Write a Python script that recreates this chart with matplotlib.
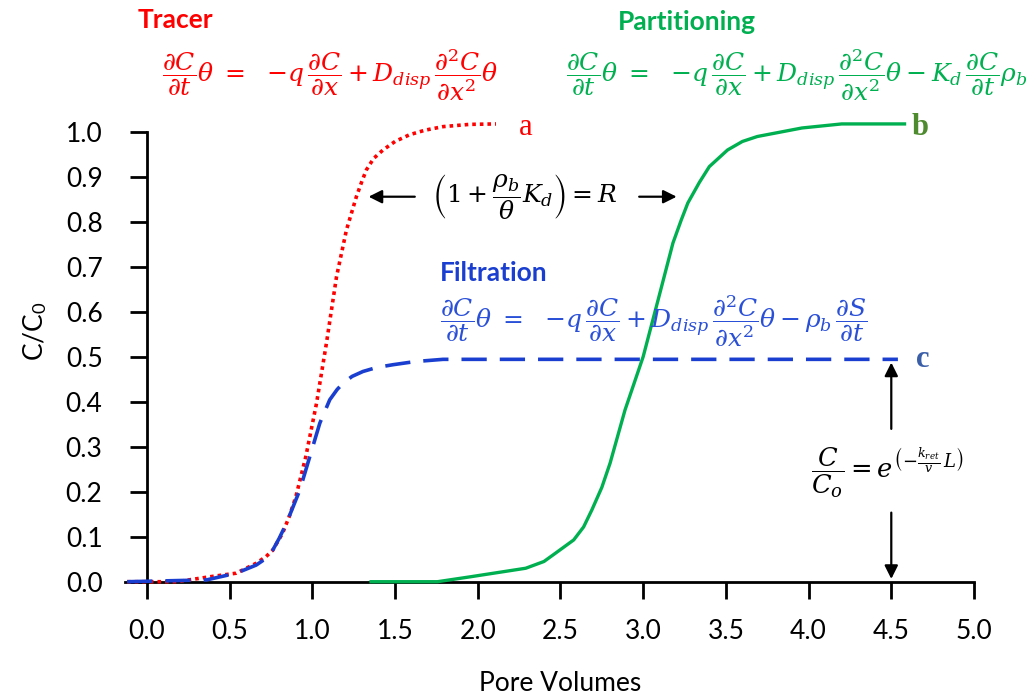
import matplotlib
matplotlib.use("Agg")
import matplotlib.pyplot as plt
from matplotlib.ticker import FormatStrFormatter

# ---- data ----
tracer_x = [-0.12, 0.18, 0.38, 0.54, 0.66, 0.72, 0.76, 0.82, 0.86, 0.90, 0.96, 1.025,
            1.085, 1.146, 1.206, 1.266, 1.30, 1.327, 1.37, 1.427, 1.50, 1.588, 1.68,
            1.79, 1.95, 2.11]
tracer_y = [0.0, 0.0, 0.011, 0.019, 0.041, 0.056, 0.07, 0.108, 0.145, 0.189, 0.278,
            0.397, 0.531, 0.679, 0.783, 0.857, 0.892, 0.917, 0.942, 0.961, 0.980,
            0.995, 1.005, 1.013, 1.018, 1.019]

filt_x = [-0.12, 0.36, 0.54, 0.66, 0.72, 0.76, 0.80, 0.843, 0.924, 0.984, 1.045,
          1.105, 1.15, 1.186, 1.24, 1.306, 1.39, 1.487, 1.62, 1.79, 4.54]
filt_y = [0.0, 0.004, 0.019, 0.037, 0.052, 0.07, 0.097, 0.13, 0.204, 0.278, 0.353,
          0.405, 0.428, 0.442, 0.457, 0.468, 0.477, 0.483, 0.490, 0.495, 0.495]

part_x = [1.355, 1.756, 1.956, 2.29, 2.40, 2.468, 2.58, 2.64, 2.69, 2.75, 2.80, 2.89,
          3.0, 3.09, 3.18, 3.23, 3.27, 3.34, 3.40, 3.51, 3.60, 3.69, 3.96, 4.20, 4.58]
part_y = [0.0, 0.0, 0.011, 0.030, 0.045, 0.063, 0.093, 0.122, 0.16, 0.21, 0.264,
          0.382, 0.501, 0.627, 0.754, 0.805, 0.843, 0.889, 0.924, 0.961, 0.980,
          0.991, 1.01, 1.019, 1.019]

x_ticks = [0.0, 0.5, 1.0, 1.5, 2.0, 2.5, 3.0, 3.5, 4.0, 4.5, 5.0]
y_ticks = [0.0, 0.1, 0.2, 0.3, 0.4, 0.5, 0.6, 0.7, 0.8, 0.9, 1.0]

plt.rcParams['font.family'] = ['Lato', 'DejaVu Sans']
plt.rcParams['mathtext.fontset'] = 'custom'
plt.rcParams['mathtext.rm'] = 'Lato'
plt.rcParams['mathtext.it'] = 'Lato:italic'

RED = '#ff0000'
GREEN = '#00b050'
BLUE = '#1a3fd0'
MATH = 'dejavuserif'

fig = plt.figure(figsize=(10.31, 6.98), dpi=100)
ax = fig.add_axes([0.1217, 0.1666, 0.823, 0.6758])
ax.set_xlim(-0.13, 5.0)
ax.set_ylim(0, 1.05)

ax.plot(tracer_x, tracer_y, color=RED, lw=2.6, linestyle=(0, (1, 1.1)),
        zorder=4, clip_on=False)
ax.plot(filt_x, filt_y, color=BLUE, lw=2.6, linestyle=(0, (7, 3.6)),
        zorder=5, clip_on=False)
ax.plot(part_x, part_y, color=GREEN, lw=2.4, zorder=3, clip_on=False)

for s in ['top', 'right']:
    ax.spines[s].set_visible(False)
ax.spines['left'].set_position(('data', 0))
ax.spines['left'].set_bounds(0, 1.0)
ax.spines['left'].set_linewidth(2.0)
ax.spines['bottom'].set_linewidth(2.0)

ax.set_xticks(x_ticks)
ax.set_yticks(y_ticks)
ax.xaxis.set_major_formatter(FormatStrFormatter('%.1f'))
ax.yaxis.set_major_formatter(FormatStrFormatter('%.1f'))
ax.tick_params(axis='x', direction='out', length=12, width=2.0, pad=15, labelsize=19)
ax.tick_params(axis='y', direction='out', length=12, width=2.0, pad=20, labelsize=19)

ax.set_xlabel('Pore Volumes', fontsize=19)
ax.xaxis.set_label_coords(0.512, -0.19)
ax.set_ylabel(r'C/C$_0$', fontsize=19)
ax.yaxis.set_label_coords(-0.09, 0.53)

# titles
ax.text(-0.054, 1.251, 'Tracer', color=RED, fontsize=19, fontweight='bold',
        va='center', ha='left', clip_on=False)
ax.text(2.844, 1.247, 'Partitioning', color=GREEN, fontsize=19, fontweight='bold',
        va='center', ha='left', clip_on=False)
ax.text(1.769, 0.687, 'Filtration', color=BLUE, fontsize=19, fontweight='bold',
        va='center', ha='left', clip_on=False)

LHS = r'\dfrac{\partial C}{\partial t}\theta\ =\ \ {-q}\,\dfrac{\partial C}{\partial x}'
eq_tr = (r'$' + LHS + r' + D_{disp}\,\dfrac{\partial^2 C}{\partial x^2}\theta$')
eq_pa = (r'$' + LHS + r' + D_{disp}\,\dfrac{\partial^2 C}{\partial x^2}\theta - K_d\,'
         r'\dfrac{\partial C}{\partial t}\rho_b$')
eq_fi = (r'$' + LHS + r' + D_{disp}\,\dfrac{\partial^2 C}{\partial x^2}\theta - \rho_b\,'
         r'\dfrac{\partial S}{\partial t}$')
ax.text(0.09, 1.128, eq_tr, color=RED, fontsize=18, va='center', ha='left',
        math_fontfamily=MATH, clip_on=False)
ax.text(2.536, 1.128, eq_pa, color=GREEN, fontsize=18, va='center', ha='left',
        math_fontfamily=MATH, clip_on=False)
ax.text(1.77, 0.58, eq_fi, color='#2a50d8', fontsize=18, va='center', ha='left',
        math_fontfamily=MATH, clip_on=False)

# retardation equation with arrows
ax.text(1.721, 0.857, r'$\left(1+\dfrac{\rho_b}{\theta}K_d\right) = R$', color='black',
        fontsize=18, va='center', ha='left', math_fontfamily=MATH)
ax.annotate('', xy=(1.323, 0.857), xytext=(1.636, 0.857),
            arrowprops=dict(arrowstyle='-|>', color='black', lw=1.6, mutation_scale=20))
ax.annotate('', xy=(3.219, 0.857), xytext=(2.959, 0.857),
            arrowprops=dict(arrowstyle='-|>', color='black', lw=1.6, mutation_scale=20))

# C/Co equation with vertical arrows
ax.text(4.016, 0.242, r'$\dfrac{C}{C_o} = e^{\left(-\frac{k_{ret}}{v}\,L\right)}$',
        color='black', fontsize=18.5, va='center', ha='left', math_fontfamily=MATH)
ax.annotate('', xy=(4.5, 0.494), xytext=(4.5, 0.334),
            arrowprops=dict(arrowstyle='-|>', color='black', lw=1.6, mutation_scale=20))
ax.annotate('', xy=(4.5, 0.0), xytext=(4.5, 0.16),
            arrowprops=dict(arrowstyle='-|>', color='black', lw=1.6, mutation_scale=20),
            annotation_clip=False)

# curve letters
ax.text(2.25, 1.012, 'a', color=RED, fontsize=22, family='Liberation Serif',
        va='center', ha='left', clip_on=False)
ax.text(4.62, 1.012, 'b', color='#4e8b2e', fontsize=22, fontweight='bold',
        family='Liberation Serif', va='center', ha='left', clip_on=False)
ax.text(4.65, 0.495, 'c', color='#3a5ea8', fontsize=22, fontweight='bold',
        family='Liberation Serif', va='center', ha='left', clip_on=False)

fig.savefig('out.png', dpi=100)
